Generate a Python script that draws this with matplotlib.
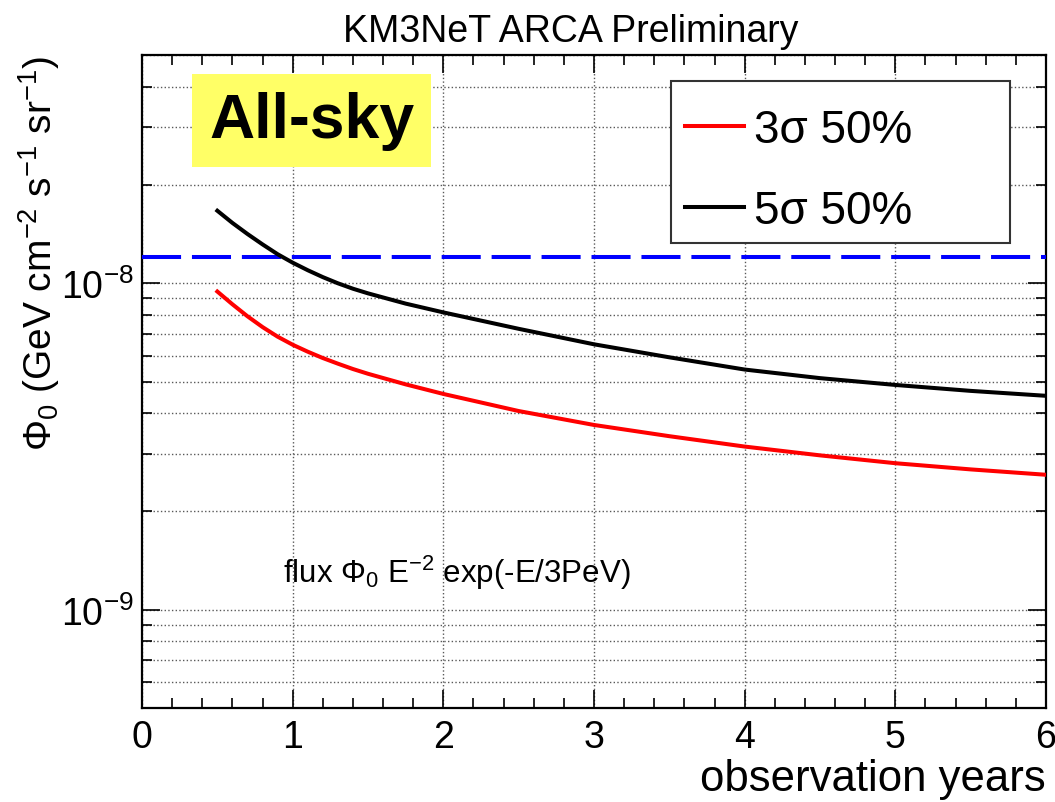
import matplotlib
matplotlib.use("Agg")
import matplotlib.pyplot as plt
from matplotlib.patches import Rectangle
from matplotlib.ticker import FixedLocator, NullFormatter, LogFormatterMathtext
import numpy as np

plt.rcParams['font.family'] = ['Liberation Sans', 'DejaVu Sans']
plt.rcParams['mathtext.fontset'] = 'custom'
plt.rcParams['mathtext.rm'] = 'Liberation Sans'
plt.rcParams['mathtext.it'] = 'Liberation Sans:italic'
plt.rcParams['mathtext.bf'] = 'Liberation Sans:bold'

# Data
years_3sigma = [0.5, 0.6, 0.7, 0.8, 0.9, 1.0, 1.1, 1.2, 1.3, 1.4, 1.5, 1.75, 2.0, 2.5,
                3.0, 3.5, 4.0, 4.5, 5.0, 5.5, 6.0]
sens_3sigma = [9.43e-9, 8.62e-9, 7.92e-9, 7.34e-9, 6.86e-9, 6.48e-9, 6.17e-9, 5.90e-9,
               5.67e-9, 5.46e-9, 5.28e-9, 4.90e-9, 4.58e-9, 4.06e-9, 3.68e-9, 3.40e-9,
               3.16e-9, 2.97e-9, 2.81e-9, 2.69e-9, 2.59e-9]
years_5sigma = [0.5, 0.6, 0.7, 0.8, 0.9, 1.0, 1.1, 1.2, 1.3, 1.4, 1.5, 1.75, 2.0, 2.5,
                3.0, 3.5, 4.0, 4.5, 5.0, 5.5, 6.0]
sens_5sigma = [1.667e-8, 1.530e-8, 1.415e-8, 1.315e-8, 1.227e-8, 1.156e-8, 1.096e-8,
               1.044e-8, 9.995e-9, 9.62e-9, 9.31e-9, 8.66e-9, 8.14e-9, 7.25e-9, 6.50e-9,
               5.93e-9, 5.44e-9, 5.12e-9, 4.88e-9, 4.68e-9, 4.52e-9]
ref_years = [0.0, 6.0]
ref_flux = [1.20e-8, 1.20e-8]

labels = ['3σ 50%', '5σ 50%']
title = 'KM3NeT ARCA Preliminary'
x_major = [0, 1, 2, 3, 4, 5, 6]
y_major = [1e-9, 1e-8]
y_minor = [6e-10, 7e-10, 8e-10, 9e-10] + [k * 1e-9 for k in range(2, 10)] + \
          [k * 1e-8 for k in range(2, 6)]

W, H = 1055, 803
fig = plt.figure(figsize=(W / 100, H / 100), dpi=100)
ax = fig.add_axes([142 / W, (H - 709) / H, 904 / W, 653 / H])

ax.plot(ref_years, ref_flux, color='#0000ff', lw=2.9, linestyle=(0, (9.7, 2.7)), zorder=3)
ax.plot(years_3sigma, sens_3sigma, color='#ff0000', lw=2.9, label=labels[0], zorder=4)
ax.plot(years_5sigma, sens_5sigma, color='black', lw=2.9, label=labels[1], zorder=4)

ax.set_yscale('log')
ax.set_xlim(0, 6)
ax.set_ylim(5e-10, 5e-8)

ax.xaxis.set_major_locator(FixedLocator(x_major))
ax.xaxis.set_minor_locator(FixedLocator(np.arange(0, 6.01, 0.2)))
ax.yaxis.set_major_locator(FixedLocator(y_major))
ax.yaxis.set_minor_locator(FixedLocator(y_minor))
ax.yaxis.set_major_formatter(LogFormatterMathtext())
ax.yaxis.set_minor_formatter(NullFormatter())
ax.xaxis.set_minor_formatter(NullFormatter())

ax.tick_params(which='both', direction='in', top=True, right=True, width=1.2, color='black')
ax.tick_params(which='major', length=13, labelsize=27, pad=6)
ax.tick_params(axis='x', which='major', pad=8)
ax.tick_params(which='minor', length=7)

ax.grid(True, which='major', axis='x', linestyle=':', color='0.35', lw=1.0)
ax.grid(True, which='both', axis='y', linestyle=':', color='0.35', lw=1.0)

for s in ax.spines.values():
    s.set_linewidth(1.6)

ax.set_title(title, fontsize=27, pad=10, x=0.4746)
ax.set_xlabel('observation years', fontsize=31.5, loc='right', labelpad=2)
ax.set_ylabel(r'$\Phi_{0}$ (GeV cm$^{-2}$ s$^{-1}$ sr$^{-1}$)', fontsize=28, loc='top')
ax.yaxis.set_label_coords(-0.088, 1.0)

# legend frame (reference box) and legend entries
ax.add_patch(Rectangle((0.585, 0.7117), 0.375, 0.2484, transform=ax.transAxes,
                       facecolor='white', edgecolor='0.2', lw=1.5, zorder=4.5))
leg = ax.legend(loc='upper left', bbox_to_anchor=(0.6004, 0.9192), frameon=False,
                fontsize=33, handlelength=1.29, handletextpad=0.22, borderpad=0.0,
                labelspacing=0.82, borderaxespad=0)
leg.set_zorder(6)
for ln in leg.get_lines():
    ln.set_linewidth(2.9)

ax.text(0.1876, 0.900, 'All-sky', transform=ax.transAxes, fontsize=45, fontweight='bold',
        ha='center', va='center', zorder=5,
        bbox=dict(facecolor='#ffff66', edgecolor='none', boxstyle='square,pad=0.27'))

ax.text(0.156, 0.209, r'flux $\Phi_{0}$ E$^{-2}$ exp(-E/3PeV)', transform=ax.transAxes,
        fontsize=22.5, ha='left', va='center')

fig.savefig('out.png', dpi=100)
